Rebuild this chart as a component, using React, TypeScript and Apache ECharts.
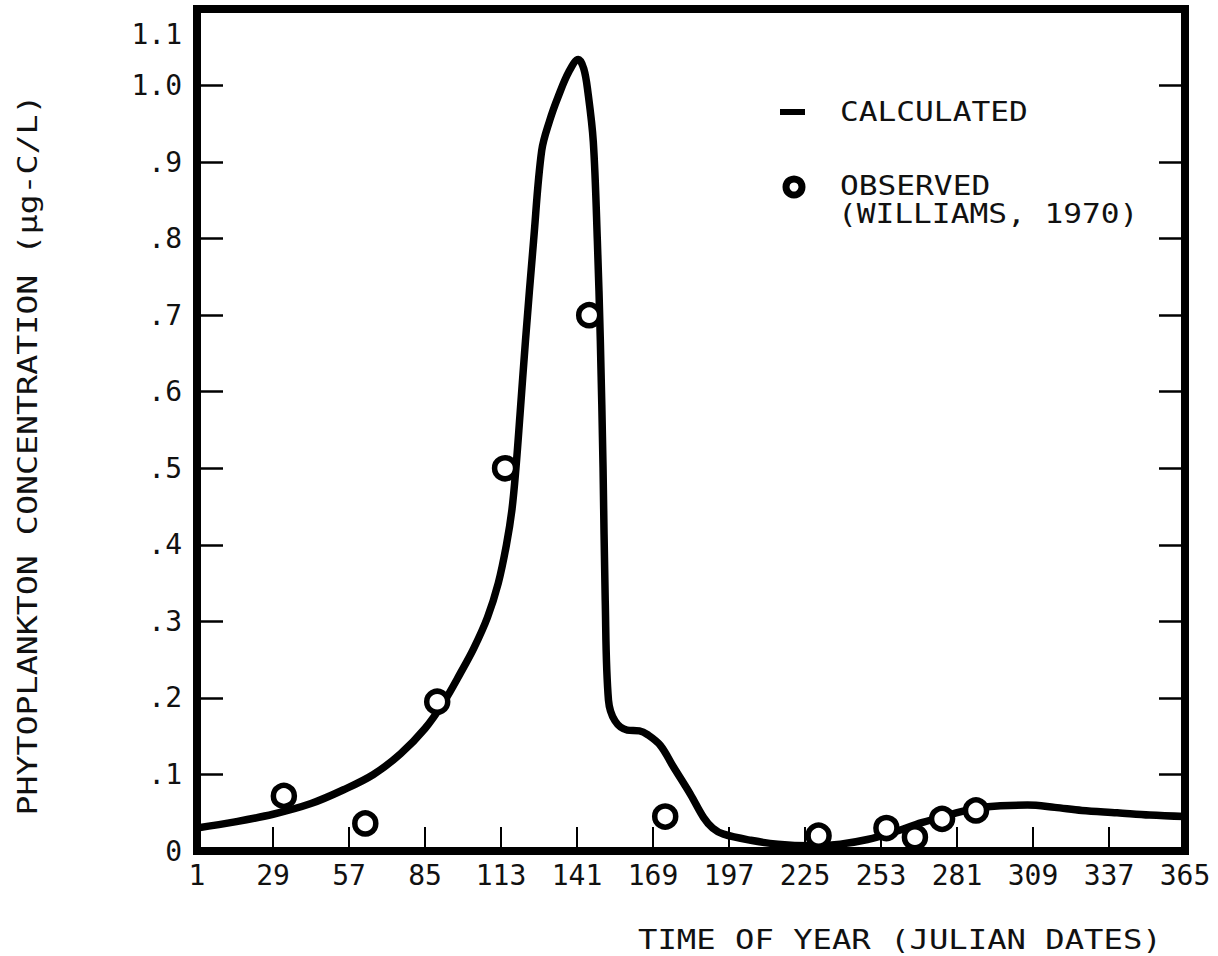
import React, { useEffect, useRef } from 'react';
import * as echarts from 'echarts';

// ---- data ----
const xTickLabels = [1, 29, 57, 85, 113, 141, 169, 197, 225, 253, 281, 309, 337, 365];
const xInnerTicks = [29, 57, 85, 113, 141, 169, 197, 225, 253, 281, 309, 337];
const yTickLabels = [0, 0.1, 0.2, 0.3, 0.4, 0.5, 0.6, 0.7, 0.8, 0.9, 1.0, 1.1];
const yInnerTicks = [0.1, 0.2, 0.3, 0.4, 0.5, 0.6, 0.7, 0.8, 0.9, 1.0];

const calcDays = [
  1, 15, 29, 43, 55, 66, 76, 85, 92, 98, 103, 108, 112, 115, 117, 118.5, 120, 122, 125, 128,
  131, 134, 138, 141.5, 143.5, 145, 147, 148.5, 149.6, 150.6, 151.4, 152.6, 155, 159.5, 164,
  167, 171.7, 176.5, 182.8, 187.6, 191, 195, 205, 215, 227, 238, 248, 258, 268, 278, 288, 297,
  307, 317, 327, 340, 352, 365,
];
const calcValues = [
  0.03, 0.038, 0.048, 0.062, 0.08, 0.1, 0.127, 0.16, 0.195, 0.232, 0.265, 0.305, 0.35, 0.4,
  0.445, 0.5, 0.57, 0.666, 0.797, 0.915, 0.955, 0.985, 1.018, 1.034, 1.022, 0.992, 0.927, 0.797,
  0.666, 0.5, 0.327, 0.197, 0.17, 0.158, 0.157, 0.152, 0.138, 0.11, 0.074, 0.044, 0.03, 0.022,
  0.014, 0.009, 0.007, 0.009, 0.015, 0.025, 0.037, 0.047, 0.056, 0.059, 0.06, 0.057, 0.053,
  0.05, 0.047, 0.045,
];

const obsDays = [33, 63, 89.5, 114.5, 145.5, 173.5, 230, 255, 265.5, 275.5, 288];
const obsValues = [0.072, 0.036, 0.195, 0.5, 0.7, 0.045, 0.02, 0.03, 0.018, 0.042, 0.053];

const legendCalc = 'CALCULATED';
const legendObs1 = 'OBSERVED';
const legendObs2 = '(WILLIAMS, 1970)';
const xTitle = 'TIME OF YEAR (JULIAN DATES)';
const yTitle = 'PHYTOPLANKTON CONCENTRATION (μg-C/L)';

const FONT = "'DejaVu Sans Mono', monospace";
const INK = '#111';

export default function App() {
  const ref = useRef<HTMLDivElement>(null);

  useEffect(() => {
    if (!ref.current) return;
    const chart = echarts.init(ref.current, null, { renderer: 'svg' });

    const lineData = calcDays.map((d, i) => [d, calcValues[i]]);
    const obsData = obsDays.map((d, i) => [d, obsValues[i]]);

    const yFmt = (v: number) => {
      if (v >= 1.05) return '{top|1.1}';
      if (v >= 0.95) return '1.0';
      if (v < 0.05) return '0';
      return '.' + Math.round(v * 10);
    };

    const textStyleBase = { fontFamily: FONT, fill: INK, fontSize: 26 };

    chart.setOption({
      animation: false,
      backgroundColor: '#fff',
      grid: {
        left: 197,
        right: 33,
        top: 9,
        bottom: 105,
        show: true,
        borderColor: '#000',
        borderWidth: 8,
        backgroundColor: 'transparent',
      },
      xAxis: {
        type: 'value',
        min: 1,
        max: 365,
        axisLine: { show: false },
        splitLine: { show: false },
        axisTick: {
          show: true,
          inside: true,
          length: 24,
          lineStyle: { color: '#000', width: 2 },
          customValues: xInnerTicks,
        },
        axisLabel: {
          customValues: xTickLabels,
          fontFamily: FONT,
          fontSize: 28,
          color: INK,
          margin: 10,
          hideOverlap: false,
        },
      },
      yAxis: [
        {
          type: 'value',
          min: 0,
          max: 1.1,
          position: 'left',
          axisLine: { show: false },
          splitLine: { show: false },
          axisTick: {
            show: true,
            inside: true,
            length: 26,
            lineStyle: { color: '#000', width: 2.5 },
            customValues: yInnerTicks,
          },
          axisLabel: {
            customValues: yTickLabels,
            formatter: yFmt,
            fontFamily: FONT,
            fontSize: 28,
            color: INK,
            margin: 15,
            rich: {
              top: { fontFamily: FONT, fontSize: 28, color: INK, padding: [50, 0, 0, 0] },
            },
          },
        },
        {
          type: 'value',
          min: 0,
          max: 1.1,
          position: 'right',
          axisLine: { show: false },
          splitLine: { show: false },
          axisLabel: { show: false },
          axisTick: {
            show: true,
            inside: true,
            length: 26,
            lineStyle: { color: '#000', width: 2.5 },
            customValues: yInnerTicks,
          },
        },
      ],
      series: [
        {
          name: 'CALCULATED',
          type: 'line',
          data: lineData,
          showSymbol: false,
          smooth: 0.35,
          lineStyle: { color: '#000', width: 7.5, cap: 'round', join: 'round' },
          z: 2,
        },
        {
          name: 'OBSERVED',
          type: 'scatter',
          data: obsData,
          symbol: 'circle',
          symbolSize: 21,
          itemStyle: { color: '#fff', borderColor: '#000', borderWidth: 5.5, opacity: 1 },
          z: 3,
        },
      ],
      graphic: [
        {
          type: 'line',
          shape: { x1: 780, y1: 112, x2: 805, y2: 112 },
          style: { stroke: '#000', lineWidth: 6 },
        },
        {
          type: 'circle',
          shape: { cx: 794, cy: 187, r: 8 },
          style: { fill: '#fff', stroke: '#000', lineWidth: 7 },
        },
        {
          type: 'text',
          x: 840,
          y: 112,
          scaleX: 1.2,
          style: { ...textStyleBase, text: legendCalc, align: 'left', verticalAlign: 'middle' },
        },
        {
          type: 'text',
          x: 840,
          y: 186,
          scaleX: 1.2,
          style: { ...textStyleBase, text: legendObs1, align: 'left', verticalAlign: 'middle' },
        },
        {
          type: 'text',
          x: 838,
          y: 214,
          scaleX: 1.2,
          style: { ...textStyleBase, text: legendObs2, align: 'left', verticalAlign: 'middle' },
        },
        {
          type: 'text',
          x: 638,
          y: 940,
          scaleX: 1.24,
          style: { ...textStyleBase, text: xTitle, align: 'left', verticalAlign: 'middle' },
        },
        {
          type: 'text',
          x: 28,
          y: 455,
          rotation: Math.PI / 2,
          scaleX: 1.28,
          style: { ...textStyleBase, text: yTitle, align: 'center', verticalAlign: 'middle' },
        },
      ],
    });

    return () => chart.dispose();
  }, []);

  return (
    <div
      ref={ref}
      style={{ position: 'fixed', left: 0, top: 0, width: 1218, height: 956, background: '#fff' }}
    />
  );
}
